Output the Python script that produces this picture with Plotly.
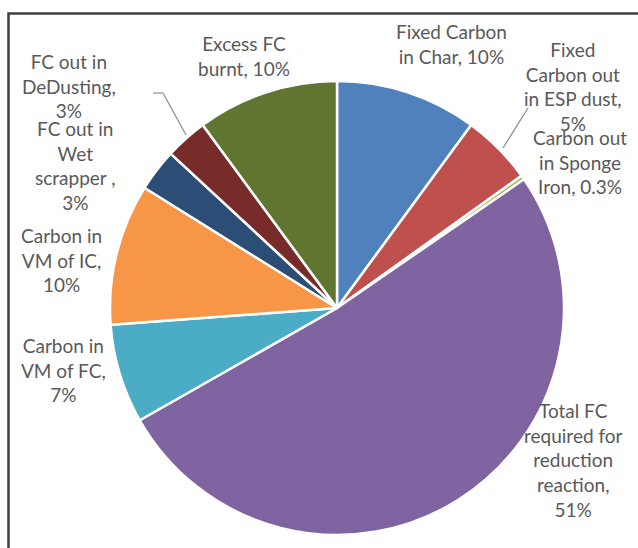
import plotly.graph_objects as go

W, H = 638, 548

# Data (clockwise from 12 o'clock)
categories = [
    "Fixed Carbon<br>in Char",
    "Fixed<br>Carbon out<br>in ESP dust",
    "Carbon out<br>in Sponge<br>Iron",
    "Total FC<br>required for<br>reduction<br>reaction",
    "Carbon in<br>VM of FC",
    "Carbon in<br>VM of IC",
    "FC out in<br>Wet<br>scrapper ",
    "FC out in<br>DeDusting",
    "Excess FC<br>burnt",
]
values = [10, 5, 0.3, 51, 7, 10, 3, 3, 10]
value_sep = [" ", "<br>", " ", "<br>", "<br>", "<br>", "<br>", "<br>", " "]
colors = ["#4F81BD", "#C0504D", "#9BBB59", "#8064A2", "#4BACC6",
          "#F79646", "#2C4D75", "#772C2A", "#5F7530"]

# label centre positions in pixels (layout)
label_px = [(451, 44), (573, 87), (580, 162), (573, 460), (63, 370),
            (62, 260), (75, 165), (69, 86), (244, 56)]

fig = go.Figure()
fig.add_trace(go.Pie(
    labels=[c.replace("<br>", " ").strip() for c in categories],
    values=values,
    sort=False,
    direction="clockwise",
    rotation=0,
    textinfo="none",
    hoverinfo="label+percent",
    marker=dict(colors=colors, line=dict(color="white", width=2.5)),
    domain=dict(x=[110 / W, 564 / W], y=[13 / H, 467 / H]),
    showlegend=False,
))

annotations = []
for cat, v, sep, (px, py) in zip(categories, values, value_sep, label_px):
    txt = f"{cat},{sep}{v:g}%"
    annotations.append(dict(
        x=px / W, y=1 - py / H, xref="paper", yref="paper",
        text=txt, showarrow=False, xanchor="center", yanchor="middle",
        align="center", font=dict(family="Lato, 'Open Sans', sans-serif", size=19, color="#595959"),
    ))

def P(x, y):
    return x / W, 1 - y / H

shapes = []
# frame
shapes.append(dict(type="rect", xref="paper", yref="paper",
                   x0=8.5 / W, x1=1.1, y0=-0.1, y1=1 - 13.5 / H,
                   line=dict(color="#404040", width=2.5), fillcolor="rgba(0,0,0,0)"))
# leader lines
for pts in [[(153, 93), (163, 93), (186, 135)], [(528, 108), (503, 148)]]:
    for (xa, ya), (xb, yb) in zip(pts[:-1], pts[1:]):
        x0, y0 = P(xa, ya)
        x1, y1 = P(xb, yb)
        shapes.append(dict(type="line", xref="paper", yref="paper",
                           x0=x0, y0=y0, x1=x1, y1=y1,
                           line=dict(color="#8C8C8C", width=1.2)))

fig.update_layout(
    width=W, height=H,
    margin=dict(l=0, r=0, t=0, b=0),
    paper_bgcolor="white", plot_bgcolor="white",
    annotations=annotations, shapes=shapes,
)

fig.write_html("out.html")
